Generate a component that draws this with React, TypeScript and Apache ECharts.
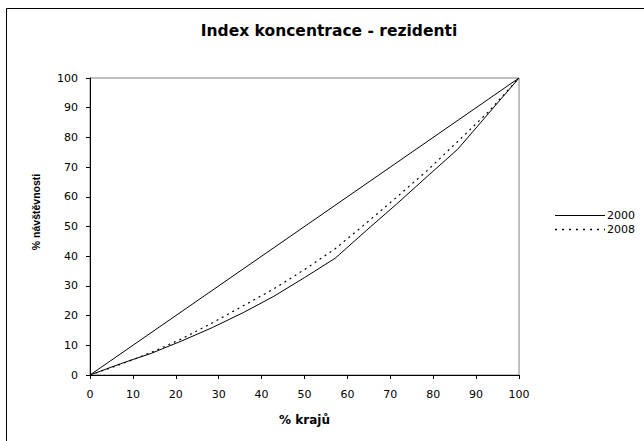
import React, { useEffect, useRef } from "react";
import * as echarts from "echarts";

const xShares = [0, 7.14, 14.29, 21.43, 28.57, 35.71, 42.86, 50, 57.14, 64.29, 71.43, 78.57, 85.71, 92.86, 100];
const values2000 = [0, 3.8, 7.3, 11.5, 16, 21, 26.5, 32.8, 39.3, 48.5, 57.5, 66.8, 76, 88, 100];
const values2008 = [0, 3.6, 7.6, 12.2, 17.6, 23.3, 29, 35.5, 42.5, 51, 59.8, 68.8, 78.6, 88.6, 100];
const equality = [[0, 0], [100, 100]];
const title = "Index koncentrace - rezidenti";
const xName = "% krajů";
const yName = "% návštěvnosti";
const legendNames = ["2000", "2008"];

export default function App() {
  const ref = useRef<HTMLDivElement>(null);
  useEffect(() => {
    document.body.style.margin = "0";
    const chart = echarts.init(ref.current!, null, { renderer: "svg" });
    const font = "'DejaVu Sans', sans-serif";
    const arial = "'Liberation Sans', Arial, sans-serif";
    chart.setOption({
      animation: false,
      backgroundColor: "#ffffff",
      textStyle: { fontFamily: font, color: "#000" },
      graphic: [
        {
          type: "rect",
          shape: { x: 6.5, y: 8.5, width: 800, height: 600 },
          style: { fill: "none", stroke: "#000", lineWidth: 1 },
          silent: true,
        },
        {
          type: "text",
          x: 329,
          y: 31,
          style: {
            text: title,
            font: `bold 15.5px ${font}`,
            fill: "#000",
            align: "center",
            verticalAlign: "middle",
          },
        },
        {
          type: "text",
          x: 36,
          y: 212,
          rotation: Math.PI / 2,
          style: {
            text: yName,
            font: `bold 10.5px ${arial}`,
            fill: "#000",
            align: "center",
            verticalAlign: "middle",
          },
        },
        {
          type: "line",
          shape: { x1: 555, y1: 215.5, x2: 605, y2: 215.5 },
          style: { stroke: "#000", lineWidth: 1 },
        },
        {
          type: "line",
          shape: { x1: 555, y1: 229.5, x2: 605, y2: 229.5 },
          style: { stroke: "#000", lineWidth: 1.4, lineDash: [2, 5] },
        },
        {
          type: "text",
          x: 607,
          y: 215.5,
          style: { text: legendNames[0], font: `11px ${font}`, fill: "#000", verticalAlign: "middle" },
        },
        {
          type: "text",
          x: 607,
          y: 229.5,
          style: { text: legendNames[1], font: `11px ${font}`, fill: "#000", verticalAlign: "middle" },
        },
      ],
      grid: {
        left: 90,
        right: 125,
        top: 78,
        bottom: 66,
        show: true,
        borderColor: "#808080",
        borderWidth: 1,
      },
      xAxis: {
        type: "value",
        min: 0,
        max: 100,
        interval: 10,
        name: xName,
        nameLocation: "middle",
        nameGap: 39,
        nameTextStyle: { fontFamily: font, fontSize: 12, fontWeight: "bold", color: "#000" },
        axisLine: { show: true, lineStyle: { color: "#000", width: 1 } },
        axisTick: { show: true, inside: false, length: 4, lineStyle: { color: "#000" } },
        axisLabel: { fontFamily: font, fontSize: 11, color: "#000", margin: 14 },
        splitLine: { show: false },
      },
      yAxis: {
        type: "value",
        min: 0,
        max: 100,
        interval: 10,
        axisLine: { show: true, lineStyle: { color: "#000", width: 1 } },
        axisTick: { show: true, inside: false, length: 4, lineStyle: { color: "#000" } },
        axisLabel: { fontFamily: font, fontSize: 11, color: "#000", margin: 12 },
        splitLine: { show: false },
      },
      series: [
        {
          name: "equality",
          type: "line",
          data: equality,
          symbol: "none",
          lineStyle: { color: "#000", width: 1 },
          silent: true,
        },
        {
          name: legendNames[0],
          type: "line",
          data: xShares.map((x, i) => [x, values2000[i]]),
          symbol: "none",
          lineStyle: { color: "#000", width: 1 },
        },
        {
          name: legendNames[1],
          type: "line",
          data: xShares.map((x, i) => [x, values2008[i]]),
          symbol: "none",
          lineStyle: { color: "#000", width: 1.2, type: [2, 4] },
        },
      ],
    });
    return () => chart.dispose();
  }, []);
  return <div ref={ref} style={{ position: "absolute", left: 0, top: 0, width: 644, height: 441 }} />;
}
